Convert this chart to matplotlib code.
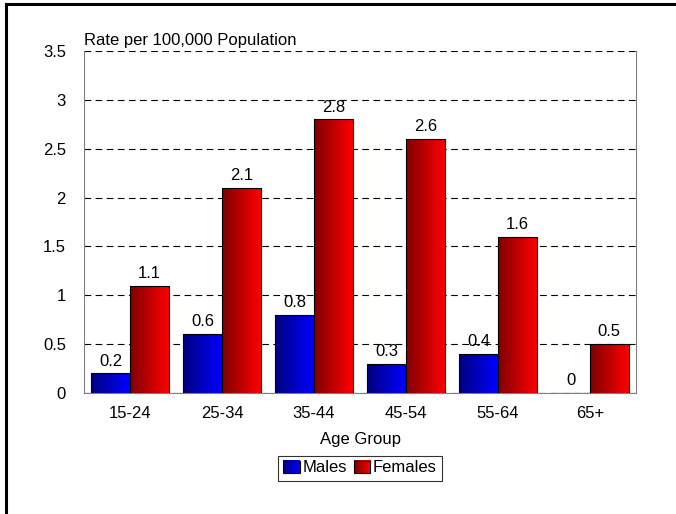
import numpy as np
import matplotlib.pyplot as plt
from matplotlib.colors import LinearSegmentedColormap
from matplotlib.lines import Line2D
from matplotlib.legend_handler import HandlerBase
from matplotlib.image import BboxImage
from matplotlib.transforms import Bbox, TransformedBbox
from matplotlib.patches import Rectangle

plt.rcParams['font.family'] = ['Liberation Sans', 'DejaVu Sans']

age_groups = ['15-24', '25-34', '35-44', '45-54', '55-64', '65+']
males = [0.2, 0.6, 0.8, 0.3, 0.4, 0.0]
females = [1.1, 2.1, 2.8, 2.6, 1.6, 0.5]

blue_cmap = LinearSegmentedColormap.from_list('blue_grad', ['#000080', '#0000ff'])
red_cmap = LinearSegmentedColormap.from_list('red_grad', ['#800000', '#ff0000'])
grad = np.linspace(0, 1, 64).reshape(1, -1)
FS = 12


def gradient_bars(ax, bars, cmap):
    for b in bars:
        x0, y0 = b.get_x(), b.get_y()
        w, h = b.get_width(), b.get_height()
        if h <= 0:
            continue
        b.set_facecolor('none')
        im = ax.imshow(grad, cmap=cmap, aspect='auto', extent=[x0, x0 + w, y0, y0 + h],
                       zorder=2, interpolation='bicubic')
        im.set_clip_path(b)


class GradHandler(HandlerBase):
    def __init__(self, cmap):
        super().__init__()
        self.cmap = cmap

    def create_artists(self, legend, orig_handle, xdescent, ydescent, width, height, fontsize, trans):
        bb = TransformedBbox(Bbox.from_bounds(-xdescent, -ydescent, width, height), trans)
        img = BboxImage(bb, cmap=self.cmap, interpolation='bicubic')
        img.set_data(grad)
        rect = Rectangle((-xdescent, -ydescent), width, height, facecolor='none',
                         edgecolor='black', linewidth=0.8, transform=trans)
        return [img, rect]


fig = plt.figure(figsize=(6.76, 5.14), dpi=100)
ax = fig.add_axes([84 / 676, 1 - 393 / 514, 552 / 676, 342 / 514])

x = np.arange(len(age_groups))
w = 0.42
b1 = ax.bar(x - w / 2, males, w, edgecolor='black', linewidth=0.8, zorder=3, label='Males')
b2 = ax.bar(x + w / 2, females, w, edgecolor='black', linewidth=0.8, zorder=3, label='Females')
gradient_bars(ax, b1, blue_cmap)
gradient_bars(ax, b2, red_cmap)

for xi, v in zip(x - w / 2, males):
    ax.text(xi, v + 0.05, f'{v:g}', ha='center', va='bottom', fontsize=FS, zorder=4)
for xi, v in zip(x + w / 2, females):
    ax.text(xi, v + 0.05, f'{v:g}', ha='center', va='bottom', fontsize=FS, zorder=4)

ax.set_xlim(-0.5, len(age_groups) - 0.5)
ax.set_ylim(0, 3.5)
ax.set_yticks(np.arange(0, 3.51, 0.5))
ax.set_yticklabels(['0', '0.5', '1', '1.5', '2', '2.5', '3', '3.5'])
ax.set_xticks(x)
ax.set_xticklabels(age_groups)
ax.tick_params(axis='both', length=0, labelsize=FS, pad=9)
ax.tick_params(axis='y', pad=13)
ax.yaxis.grid(True, linestyle=(0, (6, 4)), color='black', linewidth=0.8)
ax.set_axisbelow(True)
for s in ['left', 'right', 'bottom']:
    ax.spines[s].set_color('#808080')
ax.spines['top'].set_visible(False)

ax.set_xlabel('Age Group', fontsize=FS, labelpad=8)
ax.text(0, 1.01, 'Rate per 100,000 Population', transform=ax.transAxes,
        fontsize=FS, ha='left', va='bottom')

leg = fig.legend([b1, b2], ['Males', 'Females'], loc='center', bbox_to_anchor=(360 / 676, 1 - 468 / 514),
                 ncol=2, fontsize=FS, frameon=True, fancybox=False, handlelength=1.0,
                 handleheight=0.75, handletextpad=0.15, columnspacing=0.4, borderpad=0.3,
                 borderaxespad=0, handler_map={b1: GradHandler(blue_cmap), b2: GradHandler(red_cmap)})
leg.get_frame().set_edgecolor('black')
leg.get_frame().set_linewidth(0.8)

# outer frame (left and top only visible)
fig.add_artist(Line2D([6 / 676, 6 / 676], [0, 1 - 4 / 514], transform=fig.transFigure, color='black', linewidth=2.2))
fig.add_artist(Line2D([6 / 676, 1], [1 - 4 / 514, 1 - 4 / 514], transform=fig.transFigure, color='black', linewidth=2.2))

fig.savefig('out.png', dpi=100)
